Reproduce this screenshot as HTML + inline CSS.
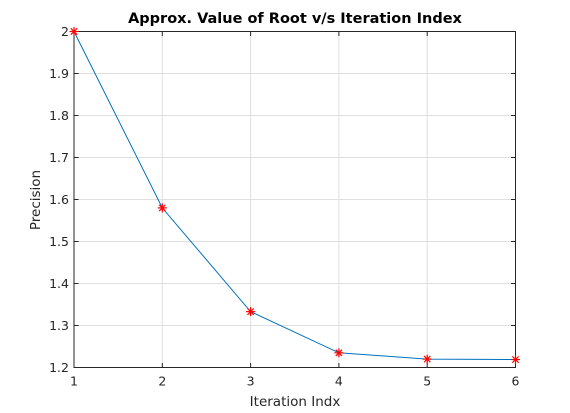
<!DOCTYPE html>
<html><head><meta charset="utf-8"><style>
html,body{margin:0;padding:0;background:#fff;}
svg{display:block;font-family:"DejaVu Sans","Liberation Sans",sans-serif;}
</style></head><body>
<svg id="chart" width="570" height="413" xmlns="http://www.w3.org/2000/svg">
<rect x="0" y="0" width="570" height="413" fill="#fff"/>
<g id="grid"></g>
<g id="axes"></g>
<g id="series"></g>
<text x="295" y="23" text-anchor="middle" font-size="14.5" font-weight="bold" fill="#000">Approx. Value of Root v/s Iteration Index</text>
<text x="295" y="406" text-anchor="middle" font-size="13.5" fill="#262626">Iteration Indx</text>
<text x="40" y="200" text-anchor="middle" font-size="13.5" fill="#262626" transform="rotate(-90 40 200)">Precision</text>
</svg>
<script>
const xValues = [1, 2, 3, 4, 5, 6];
const yValues = [2.0, 1.58, 1.333, 1.235, 1.22, 1.219];
const xTicks = [1, 2, 3, 4, 5, 6];
const yTicks = [1.2, 1.3, 1.4, 1.5, 1.6, 1.7, 1.8, 1.9, 2];

const L = 74, R = 515.5, T = 31.5, B = 367.5;
const xMin = 1, xMax = 6, yMin = 1.2, yMax = 2;
const sx = v => L + (v - xMin) / (xMax - xMin) * (R - L);
const sy = v => B - (v - yMin) / (yMax - yMin) * (B - T);
const NS = "http://www.w3.org/2000/svg";
function mk(tag, attrs, parent) {
  const e = document.createElementNS(NS, tag);
  for (const k in attrs) e.setAttribute(k, attrs[k]);
  parent.appendChild(e);
  return e;
}
const grid = document.getElementById('grid');
const axes = document.getElementById('axes');
const series = document.getElementById('series');

xTicks.forEach(t => {
  const x = sx(t);
  const g = mk('line', {x1: x, x2: x, y1: T, y2: B, stroke: '#dfdfdf', 'stroke-width': 1}, grid);
  
  
  const tk = mk('line', {x1: x, x2: x, y1: B, y2: B - 4.5, stroke: '#262626', 'stroke-width': 1}, axes);
  
  
  const tk2 = mk('line', {x1: x, x2: x, y1: T, y2: T + 4.5, stroke: '#262626', 'stroke-width': 1}, axes);
  
  
  const lb = mk('text', {x: x, y: B + 18, 'text-anchor': 'middle', 'font-size': 12.5, fill: '#262626'}, axes);
  lb.textContent = t;
  
  
});
yTicks.forEach(t => {
  const y = sy(t);
  const g = mk('line', {x1: L, x2: R, y1: y, y2: y, stroke: '#dfdfdf', 'stroke-width': 1}, grid);
  
  
  const tk = mk('line', {x1: L, x2: L + 4.5, y1: y, y2: y, stroke: '#262626', 'stroke-width': 1}, axes);
  
  
  const tk2 = mk('line', {x1: R, x2: R - 4.5, y1: y, y2: y, stroke: '#262626', 'stroke-width': 1}, axes);
  
  
  const lb = mk('text', {x: L - 5, y: y + 4.5, 'text-anchor': 'end', 'font-size': 12.5, fill: '#262626'}, axes);
  lb.textContent = t;
  
  
});
const box = mk('rect', {x: L, y: T, width: R - L, height: B - T, fill: 'none', stroke: '#262626', 'stroke-width': 1}, axes);



const pts = xValues.map((v, i) => sx(v) + ',' + sy(yValues[i])).join(' ');
const line = mk('polyline', {points: pts, fill: 'none', stroke: '#0072bd', 'stroke-width': 1}, series);


xValues.forEach((v, i) => {
  const x = sx(v), y = sy(yValues[i]), r = 4.5;
  const g = mk('g', {stroke: '#ff0000', 'stroke-width': 1.2}, series);
  
  
  mk('line', {x1: x - r, x2: x + r, y1: y, y2: y}, g);
  mk('line', {x1: x, x2: x, y1: y - r, y2: y + r}, g);
  mk('line', {x1: x - r * 0.7, x2: x + r * 0.7, y1: y - r * 0.7, y2: y + r * 0.7}, g);
  mk('line', {x1: x - r * 0.7, x2: x + r * 0.7, y1: y + r * 0.7, y2: y - r * 0.7}, g);
});
</script>
</body></html>
